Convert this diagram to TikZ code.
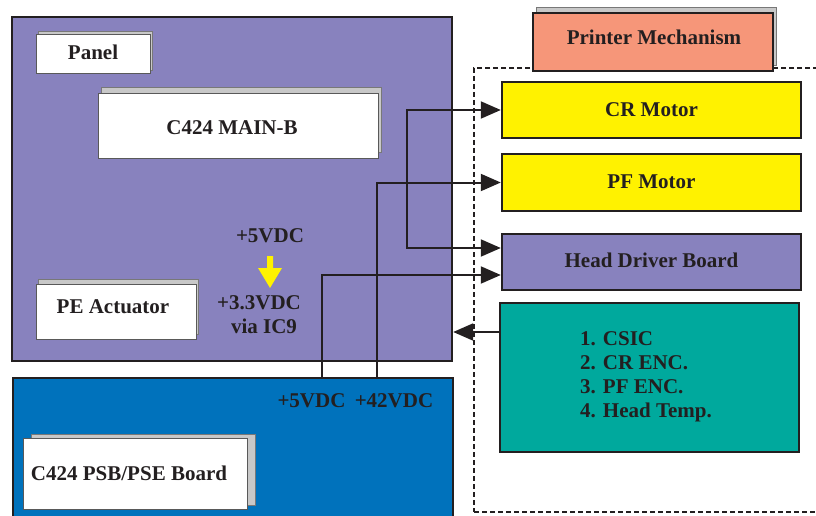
\documentclass[tikz,border=0pt]{standalone}
\usepackage{fontspec}
\setmainfont{Liberation Serif}
\usetikzlibrary{arrows.meta,shadows,calc}
\definecolor{edge}{RGB}{35,31,32}
\definecolor{mainpurple}{RGB}{136,130,190}
\definecolor{psublue}{RGB}{0,114,188}
\definecolor{sensteal}{RGB}{0,169,157}
\definecolor{motoryellow}{RGB}{255,242,0}
\definecolor{mechsalmon}{RGB}{246,150,121}
\definecolor{shadowgray}{RGB}{200,200,200}
\definecolor{shadowedge}{RGB}{120,120,120}
\begin{document}
\begin{tikzpicture}[x=1pt,y=-1pt,
  font=\fontsize{21}{24}\selectfont\bfseries,
  box/.style={draw=edge, line width=2.4pt, inner sep=0pt},
  wbox/.style args={#1/#2}{draw=gray!70!black, line width=0.9pt, fill=white, inner sep=0pt,
     copy shadow={shadow xshift=#1pt, shadow yshift=#2pt, fill=shadowgray, draw=shadowedge, line width=0.9pt}},
  txt/.style={anchor=base, inner sep=0pt, text=edge},
  conn/.style={draw=edge, line width=2pt},
  tip/.style={-{Triangle[length=20pt,width=17pt]}},
  bothtip/.style={{Triangle[length=20pt,width=17pt]}-{Triangle[length=20pt,width=17pt]}}
]
\useasboundingbox (0,0) rectangle (816,516);

% printer mechanism dashed frame
\node[draw=edge, line width=2pt, dash pattern=on 5pt off 3pt, inner sep=0pt,
      minimum width=366pt, minimum height=444pt] (frame) at (657,290) {};

% main board
\node[box, fill=mainpurple, minimum width=440pt, minimum height=344pt] (main) at (232,189) {};
% power supply board
\node[box, fill=psublue, minimum width=440pt, minimum height=152pt] (psu) at (233,454) {};

% inner white boards
\node[wbox=2/3, minimum width=114pt, minimum height=39pt] (panel) at (93,53.5) {};
\node[txt] (panelT) at (93,60) {Panel};
\node[wbox=3/6, minimum width=280pt, minimum height=65pt] (mainb) at (238,125.5) {};
\node[txt] (mainbT) at (232,135) {C424 MAIN-B};
\node[wbox=2/5, minimum width=160pt, minimum height=55pt] (pe) at (116,311.5) {};
\node[txt] (peT) at (113,313) {PE Actuator};
\node[wbox=8/4, minimum width=224pt, minimum height=71pt] (psb) at (135,473.5) {};
\node[txt] (psbT) at (129,480) {C424 PSB/PSE Board};

% printer mechanism title
\node[box, fill=mechsalmon, minimum width=240pt, minimum height=58pt,
      copy shadow={shadow xshift=3.5pt, shadow yshift=5.5pt, fill=shadowgray, draw=shadowedge, line width=1pt}] (pm) at (653,42) {};
\node[txt] (pmT) at (654,45) {Printer Mechanism};

% mechanism blocks
\node[box, fill=motoryellow, minimum width=299pt, minimum height=56pt] (cr) at (651.5,110) {};
\node[txt] (crT) at (651.5,117) {CR Motor};
\node[box, fill=motoryellow, minimum width=299pt, minimum height=57pt] (pf) at (651.5,182.5) {};
\node[txt] (pfT) at (651.5,188) {PF Motor};
\node[box, fill=mainpurple, minimum width=299pt, minimum height=56pt] (hdb) at (651.5,262) {};
\node[txt] (hdbT) at (651.5,267) {Head Driver Board};
\node[box, fill=sensteal, minimum width=299pt, minimum height=149pt] (sens) at (649.5,377.5) {};
\node[txt, anchor=base west] (l1) at (580,345) {1. CSIC};
\node[txt, anchor=base west] (l2) at (580,369.5) {2. CR ENC.};
\node[txt, anchor=base west] (l3) at (580,393.5) {3. PF ENC.};
\node[txt, anchor=base west] (l4) at (580,417) {4. Head Temp.};

% voltage labels
\node[txt] (v5top) at (270,242) {+5VDC};
\node[txt] (v33) at (259,309) {+3.3VDC};
\node[txt] (via) at (264,333) {via IC9};
\node[txt] (v5) at (311.5,407) {+5VDC};
\node[txt] (v42) at (394,407) {+42VDC};

% yellow conversion arrow
\fill[motoryellow] (267,256) -- (273,256) -- (273,268) -- (282,268) -- (270,288)
   -- (258,268) -- (267,268) -- cycle;

% connectors
\coordinate (crbend) at (407,248);
\draw[conn, bothtip] (cr.west) -| (crbend) -- ($(hdb.west)+(0,-14)$);
\draw[conn, tip] (psu.north -| 377,0) |- (pf.west);
\draw[conn, tip] (psu.north -| 322,0) |- ($(hdb.west)+(0,13)$);
\coordinate (ret) at (0,332);
\draw[conn, tip] (sens.west |- ret) -- (main.east |- ret);
\end{tikzpicture}
\end{document}
